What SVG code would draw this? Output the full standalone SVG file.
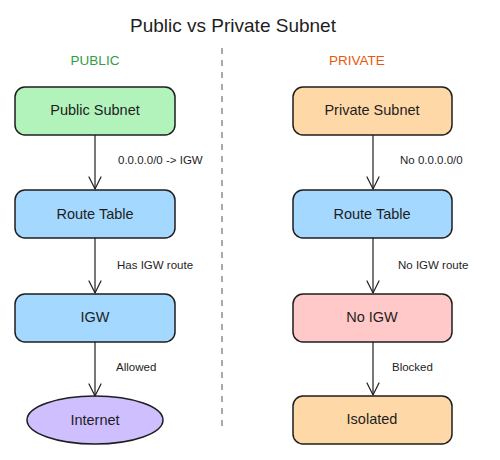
<svg xmlns="http://www.w3.org/2000/svg" width="500" height="460" viewBox="0 0 500 460">
<style>
text{font-family:"Liberation Sans","DejaVu Sans",sans-serif;fill:#1e1e1e}
.node{stroke:#1e1e1e;stroke-width:1.5}
.lbl{font-size:14.5px;text-anchor:middle;dominant-baseline:central}
.edge{font-size:11.5px}
.conn{stroke:#1e1e1e;stroke-width:1.2;fill:none}
.head{stroke:#1e1e1e;stroke-width:1.2;fill:none;stroke-linecap:round}
</style>
<rect width="500" height="460" fill="#ffffff"/>
<text x="233" y="25" font-size="19" text-anchor="middle" dominant-baseline="central">Public vs Private Subnet</text>
<text x="95" y="60" font-size="13.5" text-anchor="middle" dominant-baseline="central" style="fill:#2f9e44">PUBLIC</text>
<text x="357" y="60" font-size="13.5" text-anchor="middle" dominant-baseline="central" style="fill:#e8590c">PRIVATE</text>
<line x1="222" y1="48" x2="222" y2="430" stroke="#868e96" stroke-width="1.5" stroke-dasharray="6,6"/>
<g id="public-subnet"><rect class="node" x="15" y="87" width="160" height="48" rx="10" fill="#b2f2bb"/><text class="lbl" x="95" y="110">Public Subnet</text></g>
<g id="public-rt"><rect class="node" x="15" y="190" width="160" height="48" rx="10" fill="#a5d8ff"/><text class="lbl" x="95" y="214">Route Table</text></g>
<g id="igw"><rect class="node" x="15" y="294" width="160" height="48" rx="10" fill="#a5d8ff"/><text class="lbl" x="95" y="317">IGW</text></g>
<g id="internet"><ellipse class="node" cx="95" cy="420" rx="68" ry="24" fill="#d0bfff"/><text class="lbl" x="95" y="420">Internet</text></g>
<g id="private-subnet"><rect class="node" x="293" y="87" width="159" height="48" rx="10" fill="#ffd8a8"/><text class="lbl" x="372" y="110">Private Subnet</text></g>
<g id="private-rt"><rect class="node" x="293" y="190" width="159" height="48" rx="10" fill="#a5d8ff"/><text class="lbl" x="372" y="214">Route Table</text></g>
<g id="no-igw"><rect class="node" x="293" y="294" width="159" height="48" rx="10" fill="#ffc9c9"/><text class="lbl" x="372" y="317">No IGW</text></g>
<g id="isolated"><rect class="node" x="293" y="396" width="159" height="48" rx="10" fill="#ffd8a8"/><text class="lbl" x="372" y="419">Isolated</text></g>
<g id="connectors">
<path class="conn" d="M95 135V189"/><path class="head" d="M89 177L95 189L101 177"/>
<path class="conn" d="M95 238V293"/><path class="head" d="M89 281L95 293L101 281"/>
<path class="conn" d="M95 342V396"/><path class="head" d="M89 384L95 396L101 384"/>
<path class="conn" d="M373 135V189"/><path class="head" d="M367 177L373 189L379 177"/>
<path class="conn" d="M373 238V293"/><path class="head" d="M367 281L373 293L379 281"/>
<path class="conn" d="M373 342V395"/><path class="head" d="M367 383L373 395L379 383"/>
<text class="edge" x="118" y="164">0.0.0.0/0 -&gt; IGW</text>
<text class="edge" x="117" y="269">Has IGW route</text>
<text class="edge" x="116" y="371">Allowed</text>
<text class="edge" x="400" y="164">No 0.0.0.0/0</text>
<text class="edge" x="398" y="269">No IGW route</text>
<text class="edge" x="392" y="371">Blocked</text>
</g>
</svg>
